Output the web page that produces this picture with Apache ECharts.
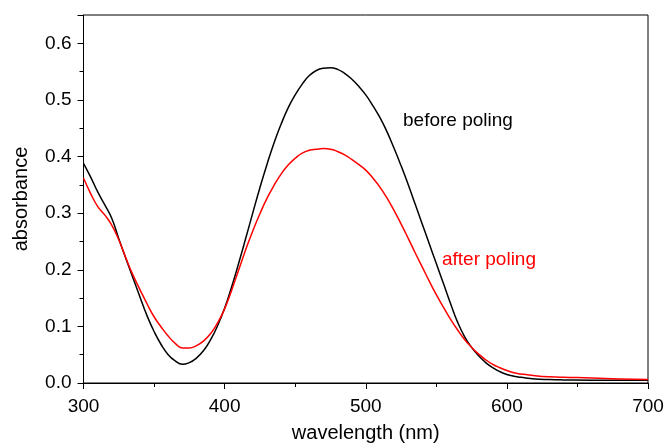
<!DOCTYPE html>
<html>
<head>
<meta charset="utf-8">
<script src="https://cdn.jsdelivr.net/npm/echarts@6/dist/echarts.min.js"></script>
<style>html,body{margin:0;padding:0;background:#fff}#c{width:664px;height:443px}</style>
</head>
<body>
<div id="c"></div>
<script>
var wavelengths = [300,305,310,315,320,325,330,335,340,345,350,355,360,365,370,375,380,385,390,395,400,405,410,415,420,425,430,435,440,445,450,455,460,465,470,475,480,485,490,495,500,505,510,515,520,525,530,535,540,545,550,555,560,565,570,575,580,585,590,595,600,605,610,620,630,640,660,680,700];
var beforePoling = [0.388,0.364,0.338,0.315,0.291,0.255,0.220,0.186,0.152,0.119,0.091,0.068,0.050,0.039,0.033,0.036,0.044,0.057,0.076,0.101,0.132,0.170,0.212,0.256,0.301,0.345,0.386,0.424,0.457,0.486,0.509,0.528,0.543,0.552,0.556,0.557,0.554,0.547,0.537,0.524,0.509,0.490,0.469,0.444,0.415,0.384,0.351,0.316,0.281,0.246,0.211,0.176,0.141,0.108,0.082,0.063,0.048,0.036,0.027,0.020,0.015,0.012,0.010,0.007,0.006,0.0055,0.005,0.005,0.005];
var afterPoling = [0.362,0.335,0.312,0.297,0.279,0.253,0.221,0.191,0.165,0.140,0.117,0.099,0.083,0.070,0.062,0.062,0.066,0.074,0.087,0.106,0.131,0.164,0.200,0.236,0.269,0.299,0.326,0.349,0.369,0.385,0.397,0.406,0.411,0.413,0.414,0.413,0.409,0.403,0.395,0.386,0.376,0.362,0.346,0.327,0.305,0.281,0.256,0.230,0.205,0.180,0.156,0.134,0.113,0.094,0.077,0.063,0.051,0.041,0.033,0.027,0.022,0.018,0.016,0.013,0.011,0.010,0.009,0.007,0.006];
var xTicks = [300,400,500,600,700];
var yTicks = [0.0,0.1,0.2,0.3,0.4,0.5,0.6];
var seriesNames = ['before poling','after poling'];

function pairs(xs, ys){ return xs.map(function(x,i){ return [x, ys[i]]; }); }

var font = 'Liberation Sans, Arial, sans-serif';
var chart = echarts.init(document.getElementById('c'), null, {renderer:'canvas'});
chart.setOption({
  animation:false,
  backgroundColor:'#fff',
  grid:{left:83.5,right:16,top:15,bottom:60,show:true,borderColor:'#000',borderWidth:1,backgroundColor:'transparent',
        outerBoundsMode:'none',containLabel:false},
  xAxis:{
    type:'value',min:xTicks[0],max:xTicks[xTicks.length-1],interval:100,
    name:'wavelength (nm)',nameLocation:'middle',nameGap:40,
    nameTextStyle:{fontFamily:font,fontSize:20,color:'#000'},
    axisLine:{show:true,lineStyle:{color:'#000',width:1}},
    axisTick:{show:true,inside:false,length:6,lineStyle:{color:'#000'}},
    minorTick:{show:true,splitNumber:2,length:4,lineStyle:{color:'#000'}},
    axisLabel:{fontFamily:font,fontSize:19,color:'#000',margin:14},
    splitLine:{show:false}
  },
  yAxis:{
    type:'value',min:0,max:0.65,interval:0.1,
    name:'absorbance',nameLocation:'middle',nameGap:52,
    nameTextStyle:{fontFamily:font,fontSize:20,color:'#000'},
    axisLine:{show:true,lineStyle:{color:'#000',width:1}},
    axisTick:{show:true,inside:false,length:6,lineStyle:{color:'#000'}},
    minorTick:{show:true,splitNumber:2,length:4,lineStyle:{color:'#000'}},
    axisLabel:{fontFamily:font,fontSize:19,color:'#000',margin:12,showMaxLabel:false,
      formatter:function(v){ return yTicks.some(function(t){return Math.abs(t-v)<1e-6;}) ? v.toFixed(1) : ''; }},
    splitLine:{show:false}
  },
  series:[
    {name:seriesNames[0],type:'line',data:pairs(wavelengths,beforePoling),smooth:0.5,showSymbol:false,
     lineStyle:{color:'#000',width:1.5},itemStyle:{color:'#000'}},
    {name:seriesNames[1],type:'line',data:pairs(wavelengths,afterPoling),smooth:0.5,showSymbol:false,
     lineStyle:{color:'#ff0000',width:1.5},itemStyle:{color:'#ff0000'}}
  ],
  graphic:[
    {type:'text',left:403,top:111,style:{text:seriesNames[0],fontFamily:font,fontSize:19,fill:'#000'}},
    {type:'text',left:442,top:250,style:{text:seriesNames[1],fontFamily:font,fontSize:19,fill:'#ff0000'}}
  ]
});
</script>
</body>
</html>
